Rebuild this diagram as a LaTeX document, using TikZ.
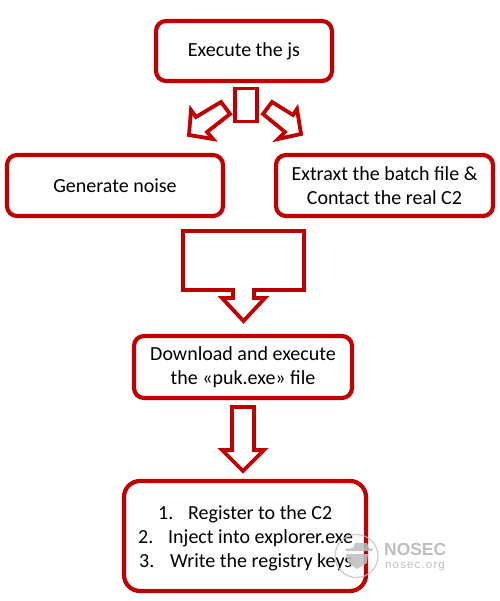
\documentclass[tikz,border=0pt]{standalone}
\usepackage{fontspec}
\setmainfont{Carlito}
\newfontfamily\wmfont{Liberation Sans}
\newfontfamily\wmspaced[LetterSpace=10]{Liberation Sans}
\definecolor{cred}{RGB}{192,0,0}
\definecolor{wm}{RGB}{190,190,190}
\tikzset{
  flowfont/.style={font=\fontsize{20}{23.5}\selectfont},
  flowbox/.style={draw=cred,line width=4.2pt,rounded corners=10pt,fill=white,align=center,inner sep=0pt,flowfont},
  listline/.style={flowfont,anchor=base west,inner sep=0pt},
  blockarrow/.style={draw=cred,line width=3.8pt,fill=white,miter limit=10},
}
\begin{document}
\begin{tikzpicture}[x=1pt,y=-1pt]
\useasboundingbox (0,0) rectangle (499,601);
\fill[white] (0,0) rectangle (499,601);
% block arrows
\draw[blockarrow] (221,102) -- (230,114) -- (207,132) -- (213,139) -- (189,135) -- (191,110) -- (196,117) -- cycle;
\draw[blockarrow] (272,102) -- (263,114) -- (285,132) -- (278,139) -- (301,134) -- (297,109) -- (293,115) -- cycle;
\node[draw=cred,line width=3.8pt,fill=white,minimum width=22pt,minimum height=33pt,inner sep=0pt] (stem) at (246,105) {};
\draw[blockarrow] (183,231) -- (304,231) -- (304,290) -- (254,290) -- (254,298) -- (265,298) -- (243.5,321) -- (222,298) -- (233,298) -- (233,290) -- (183,290) -- cycle;
\draw[blockarrow] (232,407) -- (254,407) -- (254,450) -- (264,450) -- (243,471) -- (222,450) -- (232,450) -- cycle;
% boxes
\node[flowbox,minimum width=176pt,minimum height=60pt] (exec) at (244,51) {\raisebox{-2pt}{Execute the js}};
\node[flowbox,minimum width=216pt,minimum height=61pt] (noise) at (115,185.5) {Generate noise};
\node[flowbox,minimum width=217pt,minimum height=61pt] (batch) at (384.5,185.5) {Extraxt the batch file \&\\Contact the real C2};
\node[flowbox,minimum width=218pt,minimum height=62pt] (dl) at (243,367) {Download and execute\\the «puk.exe» file};
\node[flowbox,rounded corners=16pt,minimum width=242pt,minimum height=110pt] (list) at (245,536) {};
\node[listline] (l1) at (158,519) {1.};
\node[listline] (t1) at (188,519) {Register to the C2};
\node[listline] (l2) at (138,543) {2.};
\node[listline] (t2) at (168,543) {Inject into explorer.exe};
\node[listline] (l3) at (139,567) {3.};
\node[listline] (t3) at (170,567) {Write the registry keys};
% watermark
\draw[wm,line width=1.2pt,opacity=.8] (356.5,556) circle (21.5);
\fill[wm,opacity=.85] (353,548) -- (355,543) -- (367,543) -- (369,548) -- (373,549) -- (372,551) -- (346,551) -- (345,549) -- cycle;
\fill[wm,opacity=.85] (346,554) -- (368,554) -- (367,563) -- (357,569) -- (348,563) -- cycle;
\node[font=\wmfont\bfseries\fontsize{17.4}{18}\selectfont,text=wm,anchor=base west,inner sep=0pt] (wm1) at (384,555.5) {NOSEC};
\node[font=\wmspaced\fontsize{11.5}{12}\selectfont,text=wm,anchor=base west,inner sep=0pt] (wm2) at (385,568) {nosec.org};
\end{tikzpicture}
\end{document}
